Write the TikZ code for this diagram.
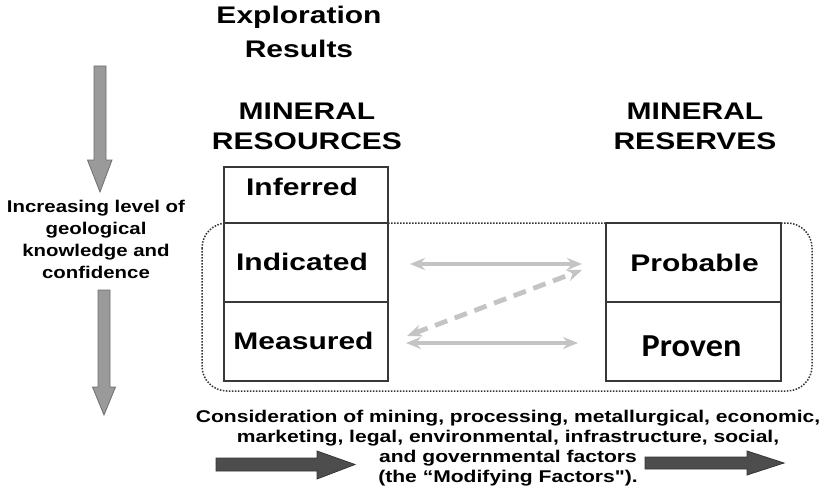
\documentclass[tikz,border=0pt]{standalone}
\usepackage{fontspec}
\usepackage{graphicx}
\setmainfont{Liberation Sans}
\newfontfamily\rawarial{Liberation Sans}
\newfontfamily\calib{Carlito}
\usetikzlibrary{arrows.meta}
\newcommand{\stx}[2][1.25]{\scalebox{#1}[1]{#2}}
\definecolor{boxline}{HTML}{383838}
\definecolor{lightarr}{HTML}{C4C4C4}
\definecolor{grayfill}{HTML}{9A9A9A}
\definecolor{grayline}{HTML}{6E6E6E}
\definecolor{darkfill}{HTML}{4D4D4D}
\definecolor{darkline}{HTML}{363636}
\definecolor{dotline}{HTML}{333333}
\begin{document}
\begin{tikzpicture}[x=1pt,y=-1pt,
  resbox/.style={draw=boxline, line width=1.4pt, inner sep=0pt, outer sep=0pt, minimum width=164pt, minimum height=79pt},
  rsvbox/.style={resbox, minimum width=175pt},
  lbl/.style={inner sep=0pt, anchor=base, font=\fontsize{24}{28}\selectfont\bfseries},
  head/.style={inner sep=0pt, font=\fontsize{24}{30}\selectfont\bfseries},
  larr/.style={line width=3.5pt, draw=lightarr, {Stealth[length=15pt,width=12pt,inset=5pt]}-{Stealth[length=15pt,width=12pt,inset=5pt]}},
  grayarrow/.style={fill=grayfill, draw=grayline, line width=0.8pt},
  darkarrow/.style={fill=darkfill, draw=darkline, line width=0.8pt}]
\useasboundingbox (0,0) rectangle (830,495);
\fill[white] (0,0) rectangle (830,495);

% titles
\node[head, font=\fontsize{24}{34}\selectfont\bfseries] (title) at (299,34.2)
  {\stx{\begin{tabular}{@{}c@{}}Exploration\\Results\end{tabular}}};
\node[head] (mres) at (307,128)
  {\stx{\begin{tabular}{@{}c@{}}MINERAL\\RESOURCES\end{tabular}}};
\node[head] (mrsv) at (695,128)
  {\stx{\begin{tabular}{@{}c@{}}MINERAL\\RESERVES\end{tabular}}};

% dotted grouping
\draw[dotline, line width=1.5pt, dash pattern=on 1.5pt off 1.5pt, rounded corners=25pt]
  (202,223) rectangle (812,391);

% resource boxes
\node[resbox, minimum height=56pt] (inf) at (306,195) {};
\node[resbox] (ind) at (306,262.5) {};
\node[resbox] (mea) at (306,341.5) {};
% reserve boxes
\node[rsvbox] (prob) at (693.4,262.5) {};
\node[rsvbox] (prov) at (693.4,341.5) {};

\node[lbl] (tinf) at (302,195) {\stx{Inferred}};
\node[lbl] (tind) at (302,270.7) {\stx{Indicated}};
\node[lbl] (tmea) at (303.5,349) {\stx{Measured}};
\node[lbl] (tprob) at (694.5,271) {\stx{Probable}};
\node[lbl, font=\calib\fontsize{32}{36}\selectfont\bfseries] (tprov) at (691.5,356) {\stx[1.07]{Proven}};

% light connectors
\coordinate (a1l) at (410,264);
\coordinate (a1r) at (582,264);
\coordinate (a2l) at (406,343);
\coordinate (a2r) at (578,343);
\coordinate (d1) at (582,270);
\coordinate (d2) at (407,336);
\draw[larr] (a1l) -- (a1r);
\draw[larr] (a2l) -- (a2r);
\draw[larr, line width=4.8pt, dash pattern=on 13pt off 8pt] (d2) -- (d1);

% left text
\node[inner sep=0pt, font=\fontsize{17}{22}\selectfont\bfseries] (know) at (96,240.6)
  {\stx[1.2]{\begin{tabular}{@{}c@{}}Increasing level of\\geological\\knowledge and\\confidence\end{tabular}}};

% left gray arrows
\draw[grayarrow] (94,66) -- (106,66) -- (106,160) -- (112,160) -- (100,192)
  -- (87.5,160) -- (94,160) -- cycle;
\draw[grayarrow] (98,290) -- (110,290) -- (110,387) -- (115.5,387) -- (104,415)
  -- (92.5,387) -- (98,387) -- cycle;

% bottom text
\node[inner sep=0pt, font=\fontsize{17}{19.7}\selectfont\bfseries] (modf) at (508,448.6)
  {\stx[1.24]{\begin{tabular}{@{}c@{}}Consideration of mining, processing, metallurgical, economic,\\
  marketing, legal, environmental, infrastructure, social,\\
  and governmental factors\\
  (the “Modifying Factors{\rawarial\bfseries"}).\end{tabular}}};

% bottom dark arrows
\draw[darkarrow] (216,458) -- (317,458) -- (317,451) -- (355,464.5) -- (317,479)
  -- (317,471) -- (216,471) -- cycle;
\draw[darkarrow] (645,457) -- (747,457) -- (747,451) -- (784,463) -- (747,475)
  -- (747,469) -- (645,469) -- cycle;
\end{tikzpicture}
\end{document}
